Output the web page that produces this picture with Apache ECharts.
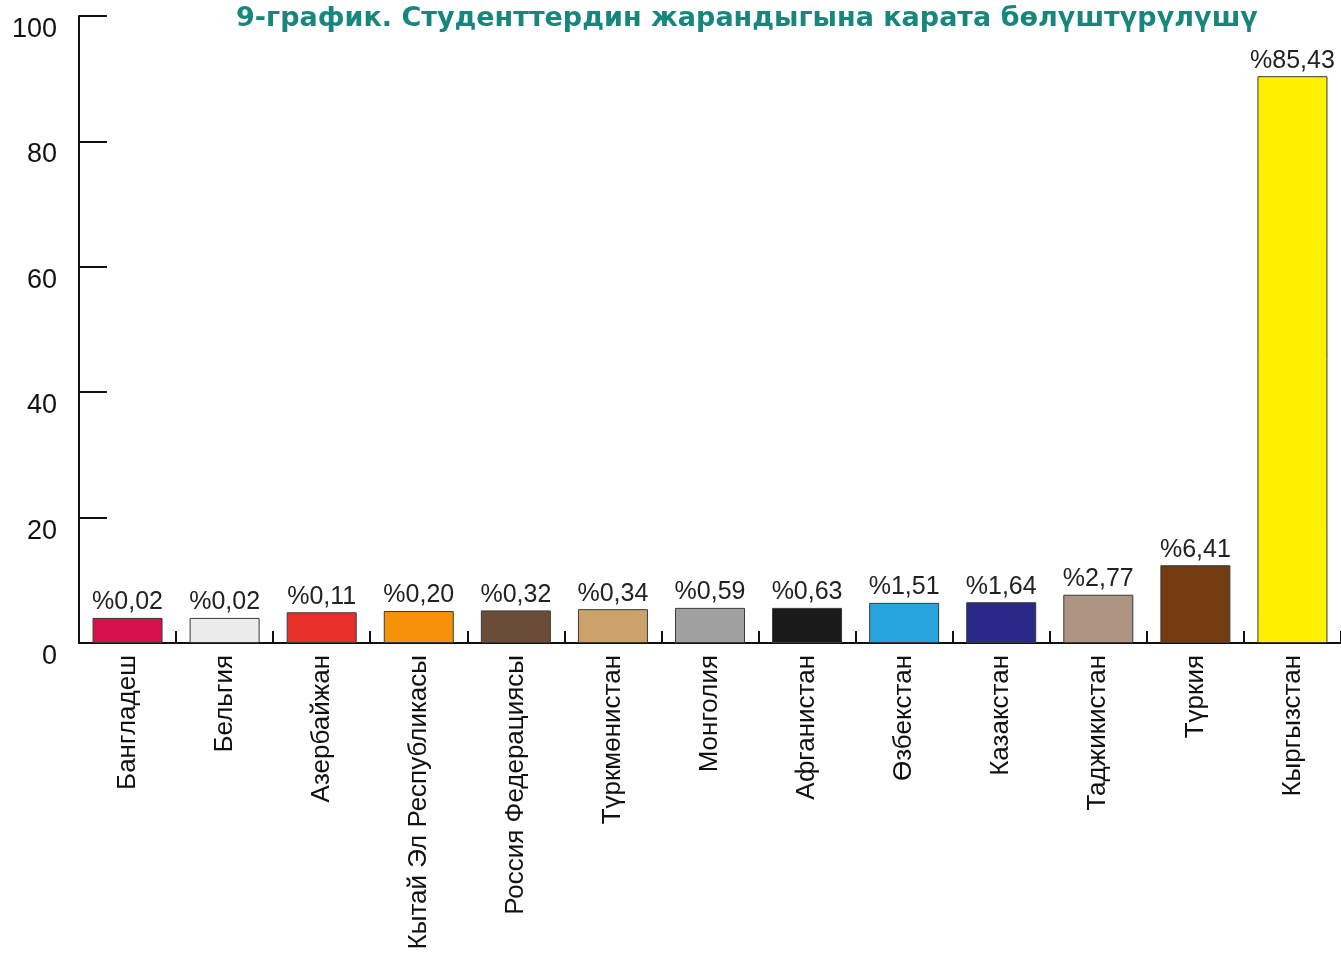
<!DOCTYPE html>
<html>
<head>
<meta charset="utf-8">
<script src="https://cdn.jsdelivr.net/npm/echarts@6/dist/echarts.min.js"></script>
<style>
  html, body { margin: 0; padding: 0; background: #ffffff; }
  #chart { width: 1341px; height: 954px; }
</style>
</head>
<body>
<div id="chart"></div>
<script>
// 9-график: студенттердин жарандыгы
const countries = ["Бангладеш", "Бельгия", "Азербайжан", "Кытай Эл Республикасы", "Россия Федерациясы",
    "Түркмөнистан", "Монголия", "Афганистан", "Өзбекстан", "Казакстан", "Таджикистан", "Түркия", "Кыргызстан"];
// bar heights as drawn in the picture (scale 0..100)
const barHeights = [4.0, 4.0, 4.9, 5.1, 5.2, 5.4, 5.6, 5.6, 6.4, 6.5, 7.7, 12.4, 90.4];
// printed shares
const shareLabels = ["%0,02", "%0,02", "%0,11", "%0,20", "%0,32", "%0,34", "%0,59", "%0,63", "%1,51", "%1,64", "%2,77", "%6,41", "%85,43"];
const barColors = ["#d8104a", "#ececec", "#e8302a", "#f5920a", "#6b4c38", "#caa26a", "#a0a0a0",
    "#1a1a1a", "#27a4e0", "#2a2888", "#ad9483", "#733c10", "#fff000"];
const yTicks = { min: 0, max: 100, interval: 20 };

const font = "'Liberation Sans', Arial, sans-serif";
const chart = echarts.init(document.getElementById("chart"), null, { renderer: "canvas" });

chart.setOption({
    backgroundColor: "#ffffff",
    animation: false,
    title: {
        text: "9-график. Студенттердин жарандыгына карата бөлүштүрүлүшү",
        left: 742, top: 0, textAlign: "center",
        textStyle: { color: "#17877d", fontSize: 27, fontWeight: "bold", fontFamily: "'DejaVu Sans', sans-serif" }
    },
    grid: { left: 79, right: 0, top: 16, bottom: 311, containLabel: false },
    xAxis: {
        type: "category",
        data: countries,
        boundaryGap: true,
        axisLine: { show: true, lineStyle: { color: "#111", width: 2 } },
        axisTick: { show: true, inside: true, length: 12, alignWithLabel: false, lineStyle: { color: "#111", width: 2 } },
        axisLabel: { rotate: 90, margin: 12, interval: 0, color: "#111", fontSize: 26, fontFamily: font }
    },
    yAxis: {
        type: "value",
        min: yTicks.min, max: yTicks.max, interval: yTicks.interval,
        splitLine: { show: false },
        axisLine: { show: true, lineStyle: { color: "#111", width: 2 } },
        axisTick: { show: true, inside: true, length: 28, lineStyle: { color: "#111", width: 2 } },
        axisLabel: { margin: 22, color: "#111", fontSize: 27, fontFamily: font, verticalAlign: "top" }
    },
    series: [{
        type: "bar",
        barWidth: 70,
        data: barHeights.map((v, i) => ({
            value: v,
            itemStyle: { color: barColors[i], borderColor: "#3a3a3a", borderWidth: 1 }
        })),
        label: {
            show: true, position: "top", distance: 3,
            formatter: p => shareLabels[p.dataIndex],
            color: "#222", fontSize: 25, fontFamily: font
        }
    }]
});
</script>
</body>
</html>
